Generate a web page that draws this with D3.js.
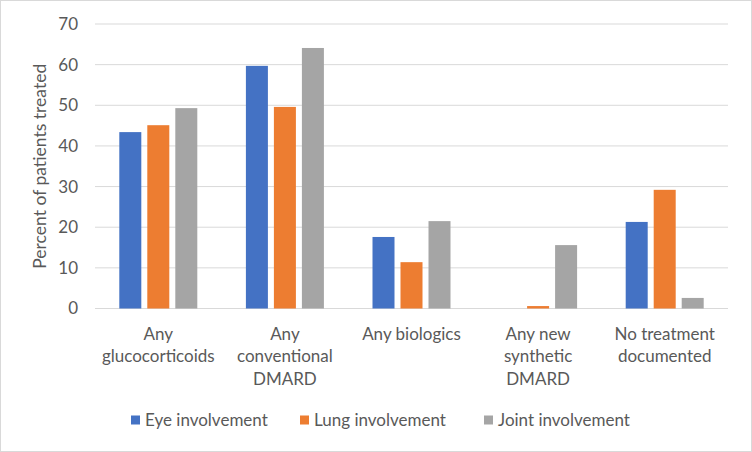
<!DOCTYPE html>
<html>
<head>
<meta charset="utf-8">
<script src="https://cdn.jsdelivr.net/npm/d3@7"></script>
<style>
  body { margin: 0; background: #fff; }
  svg text { font-family: Lato, "Open Sans", sans-serif; fill: #595959; }
</style>
</head>
<body>
<div id="chart"></div>
<script>
const categories = [
  ["Any", "glucocorticoids"],
  ["Any", "conventional", "DMARD"],
  ["Any biologics"],
  ["Any new", "synthetic", "DMARD"],
  ["No treatment", "documented"]
]
const seriesNames = ["Eye involvement", "Lung involvement", "Joint involvement"]
const eye = [43.4, 59.7, 17.6, 0, 21.3]
const lung = [45.1, 49.6, 11.4, 0.6, 29.2]
const joint = [49.3, 64.1, 21.5, 15.6, 2.6]
const yTicks = [0, 10, 20, 30, 40, 50, 60, 70]
const colors = ["#4472c4", "#ed7d31", "#a5a5a5"]

const series = [eye, lung, joint]
const width = 752
const height = 452
const margin = { top: 24, right: 24, bottom: 143.5, left: 95 }

const svg = d3.select("#chart")
  .append("svg")
  .attr("width", width)
  .attr("height", height)

svg.append("rect")
  .attr("x", 0.5).attr("y", 0.5)
  .attr("width", width - 1).attr("height", height - 1)
  .attr("fill", "#fff")
  .attr("stroke", "#d9d9d9")

const x = d3.scaleBand()
  .domain(d3.range(categories.length))
  .range([margin.left, width - margin.right])

const y = d3.scaleLinear()
  .domain([0, 70])
  .range([height - margin.bottom, margin.top])

// gridlines
svg.append("g")
  .selectAll("line")
  .data(yTicks)
  .join("line")
  .attr("x1", margin.left)
  .attr("x2", width - margin.right)
  .attr("y1", d => y(d))
  .attr("y2", d => y(d))
  .attr("stroke", "#d9d9d9")
  .attr("stroke-width", 1)

// y tick labels
svg.append("g")
  .selectAll("text")
  .data(yTicks)
  .join("text")
  .attr("x", 78)
  .attr("y", d => y(d))
  .attr("dy", "0.35em")
  .attr("text-anchor", "end")
  .style("font-size", "17px")
  .text(d => d)

svg.append("text")
  .attr("transform", `translate(40,${(y(0) + y(70)) / 2}) rotate(-90)`)
  .attr("text-anchor", "middle")
  .attr("dy", "0.35em")
  .style("font-size", "17.5px")
  .text("Percent of patients treated")

const barW = 22
const step = 28

categories.forEach((cat, i) => {
  const cx = x(i) + x.bandwidth() / 2
  svg.append("g")
    .selectAll("rect")
    .data(series.map((s, k) => ({ k, v: s[i] })))
    .join("rect")
    .attr("x", d => cx + (d.k - 1) * step - barW / 2)
    .attr("width", barW)
    .attr("y", d => y(d.v))
    .attr("height", d => y(0) - y(d.v))
    .attr("fill", d => colors[d.k])

  svg.append("text")
    .attr("x", cx)
    .attr("y", 334)
    .attr("text-anchor", "middle")
    .style("font-size", "17px")
    .selectAll("tspan")
    .data(cat)
    .join("tspan")
    .attr("x", cx)
    .attr("dy", (d, j) => j === 0 ? "0.35em" : "22.5px")
    .text(d => d)
})

// legend
const legendX = [131, 300, 484]
const legend = svg.append("g")
  .selectAll("g")
  .data(seriesNames)
  .join("g")
  .attr("transform", (d, k) => `translate(${legendX[k]},420)`)

legend.append("rect")
  .attr("x", 0).attr("y", -4.5)
  .attr("width", 9).attr("height", 9)
  .attr("fill", (d, k) => colors[k])

legend.append("text")
  .attr("x", 14)
  .attr("dy", "0.35em")
  .style("font-size", "17px")
  .text(d => d)
</script>
</body>
</html>
